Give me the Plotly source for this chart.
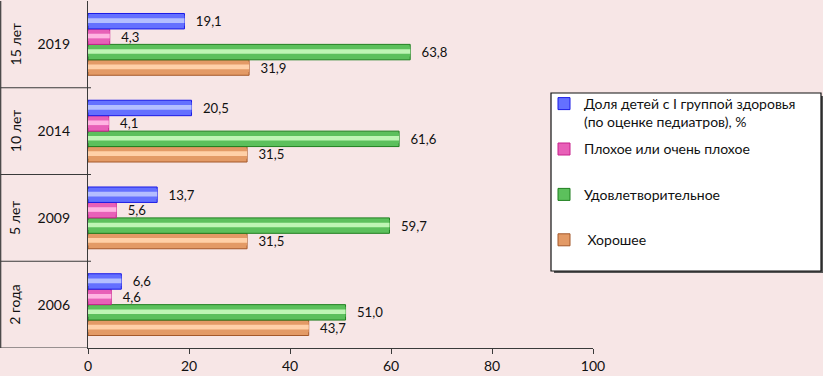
import plotly.graph_objects as go

years = ["2006", "2009", "2014", "2019"]
ages = ["2 года", "5 лет", "10 лет", "15 лет"]
tick_vals = [0, 20, 40, 60, 80, 100]

series_names = [
    "Доля детей с I группой здоровья<br>(по оценке педиатров), %",
    "Плохое или очень плохое<br>\u00a0",
    "Удовлетворительное<br>\u00a0",
    " Хорошее<br>\u00a0",
]
share_group1 = [6.6, 13.7, 20.5, 19.1]
poor = [4.6, 5.6, 4.1, 4.3]
satisfactory = [51.0, 59.7, 61.6, 63.8]
good = [43.7, 31.5, 31.5, 31.9]

# (dark edge, mid, light highlight)
palettes = [
    ("#1A1AE6", "#6470FF", "#B4BEFF"),
    ("#C8208C", "#E860B8", "#FFB4E2"),
    ("#1F7F1F", "#5CC05C", "#BEF5B4"),
    ("#A4582A", "#E39A66", "#FFD0A8"),
]
values = [share_group1, poor, satisfactory, good]

FONT = "Lato"
BG = "#F7E6E6"
w = 0.178
offsets = [w, 0.0, -w, -2 * w]

fig = go.Figure()
# draw in order: orange, green, pink, blue
for idx in [3, 2, 1, 0]:
    dark, mid, light = palettes[idx]
    vals = values[idx]
    off = offsets[idx]
    fig.add_trace(go.Bar(
        y=years, x=vals, orientation="h", name=series_names[idx],
        legendgroup=f"g{idx}", legendrank=idx,
        width=w, offset=off,
        marker=dict(color=mid, line=dict(color=dark, width=1)),
        text=["\u00a0\u00a0\u2009" + f"{v:.1f}".replace(".", ",") for v in vals],
        textposition="outside", cliponaxis=False,
        textfont=dict(family=FONT, size=14.5, color="#111111"),
        hoverinfo="skip",
    ))
    # gradient simulation layers
    for frac, col in [(0.66, mid), (0.3, light)]:
        hw = w * frac
        fig.add_trace(go.Bar(
            y=years, x=vals, orientation="h", showlegend=False,
            legendgroup=f"g{idx}",
            width=hw, offset=off + (w - hw) / 2 + w * 0.04,
            marker=dict(color=col, line=dict(width=0)),
            hoverinfo="skip",
        ))

L, R, T, B = 88, 230, 1, 28
PW = 823 - L - R
PH = 376 - T - B

def px_x(p):
    return (p - L) / PW

def px_y(p):
    return (376 - B - p) / PH

shapes = []
# category separators in label area
for k in [0.5, 1.5, 2.5]:
    shapes.append(dict(type="line", xref="paper", yref="y", x0=px_x(0.5), x1=px_x(L + 3),
                       y0=k, y1=k, line=dict(color="#3A3A3A", width=1.2)))
shapes.append(dict(type="line", xref="paper", yref="y", x0=px_x(0.5), x1=0,
                   y0=-0.5, y1=-0.5, line=dict(color="#3A3A3A", width=1.2)))
shapes.append(dict(type="line", xref="paper", yref="y", x0=px_x(0.7), x1=px_x(0.7),
                   y0=-0.5, y1=3.5, line=dict(color="#3A3A3A", width=1.2)))
# legend box with shadow
lx0, lx1, ly0, ly1 = 551, 821, 93, 271
shapes.append(dict(type="rect", xref="paper", yref="paper", layer="above",
                   x0=px_x(lx0 + 3), x1=px_x(lx1 + 2), y0=px_y(ly1 + 2), y1=px_y(ly0 + 3),
                   fillcolor="#555555", line=dict(width=0)))
shapes.append(dict(type="rect", xref="paper", yref="paper", layer="above",
                   x0=px_x(lx0), x1=px_x(lx1), y0=px_y(ly1), y1=px_y(ly0),
                   fillcolor="white", line=dict(color="#111111", width=1.2)))

annotations = []
for i, a in enumerate(ages):
    annotations.append(dict(text=a, xref="paper", yref="y", x=px_x(15), y=i,
                            xanchor="center", yanchor="middle",
                            textangle=-90, showarrow=False,
                            font=dict(family=FONT, size=14, color="#111111")))

fig.update_layout(
    width=823, height=376,
    margin=dict(l=L, r=R, t=T, b=B, autoexpand=False),
    paper_bgcolor=BG, plot_bgcolor=BG,
    barmode="overlay",
    font=dict(family=FONT, size=14, color="#111111"),
    shapes=shapes, annotations=annotations,
    showlegend=True,
    legend=dict(
        x=px_x(544), y=px_y(88), xanchor="left", yanchor="top",
        bgcolor="rgba(0,0,0,0)", borderwidth=0,
        traceorder="grouped", tracegroupgap=6, valign="top",
        font=dict(family=FONT, size=14, color="#111111"),
        itemwidth=30,
    ),
    xaxis=dict(range=[0, 100], tickvals=tick_vals, showgrid=False, zeroline=False,
               showline=True, linecolor="#3A3A3A", linewidth=1.2, automargin=False,
               ticks="outside", ticklen=5, tickcolor="#3A3A3A",
               tickfont=dict(family=FONT, size=14, color="#111111")),
    yaxis=dict(type="category", categoryorder="array", categoryarray=years,
               range=[-0.5, 3.5], showgrid=False, zeroline=False, automargin=False,
               showline=True, linecolor="#3A3A3A", linewidth=1.2,
               ticks="", ticklabelstandoff=14,
               tickfont=dict(family=FONT, size=14, color="#111111")),
)

fig.write_html("out.html", config={"displayModeBar": False},
               post_script="document.body.style.margin='0';document.body.style.overflow='hidden';window.dispatchEvent(new Event('resize'));")
